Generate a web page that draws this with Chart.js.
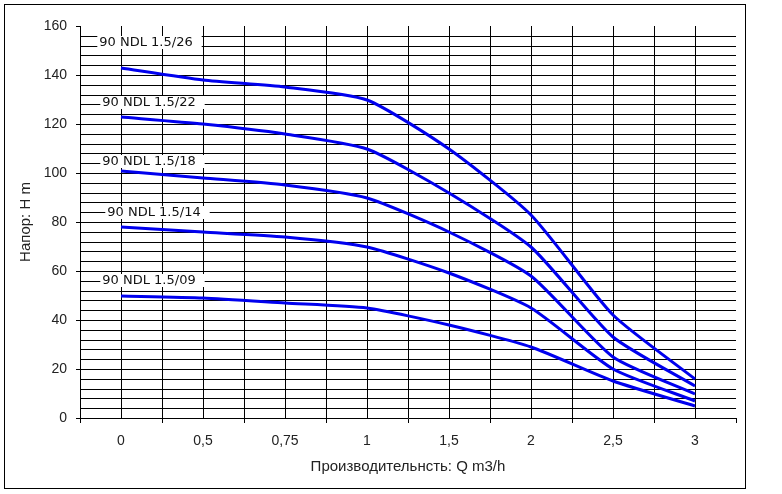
<!DOCTYPE html>
<html>
<head>
<meta charset="utf-8">
<script src="https://cdn.jsdelivr.net/npm/chart.js@4.4.1/dist/chart.umd.min.js"></script>
<style>
  html, body { margin: 0; padding: 0; background: #fff; }
  canvas { display: block; }
</style>
</head>
<body>
<canvas id="pumpChart" width="782" height="494"></canvas>
<script>
// Q, m3/h (категории по оси X)
const flowLabels = ['0', '0,5', '0,75', '1', '1,5', '2', '2,5', '3'];
const pumpNames = ['90 NDL 1.5/26', '90 NDL 1.5/22', '90 NDL 1.5/18', '90 NDL 1.5/14', '90 NDL 1.5/09'];
// напор H, m
const head26 = [143, 138, 135, 130, 110, 83, 42, 16];
const head22 = [123, 120, 116, 110, 92, 70, 33, 13];
const head18 = [101, 98, 95, 90, 76, 58, 25, 10];
const head14 = [78, 76, 74, 70, 59, 45, 20, 7];
const head09 = [50, 49, 47, 45, 38, 29, 15, 5];
const headSeries = [head26, head22, head18, head14, head09];

// where the name tags sit: [x offset in categories, head]
const tagSpots = [[0.30, 153.5], [0.345, 129], [0.345, 105], [0.405, 84.2], [0.345, 56.5]];

const frame = {
    id: 'frame',
    beforeDraw(chart) {
        const ctx = chart.ctx;
        ctx.save();
        ctx.fillStyle = '#fff';
        ctx.fillRect(0, 0, chart.width, chart.height);
        ctx.restore();
    },
    afterDraw(chart) {
        const ctx = chart.ctx;
        ctx.save();
        ctx.strokeStyle = '#000';
        ctx.lineWidth = 1;
        ctx.strokeRect(4.5, 4.5, 741, 484);
        ctx.restore();
    }
};

const nameTags = {
    id: 'nameTags',
    beforeDatasetsDraw(chart) {
        const { ctx, scales: { x, y } } = chart;
        ctx.save();
        ctx.font = '13px "DejaVu Sans"';
        ctx.textBaseline = 'middle';
        ctx.textAlign = 'left';
        chart.data.datasets.forEach((ds, i) => {
            const [dx, h] = tagSpots[i];
            const w = ctx.measureText(ds.label).width;
            const left = x.getPixelForValue(dx) - w / 2;
            const cy = Math.round(y.getPixelForValue(h));
            ctx.fillStyle = '#fff';
            ctx.fillRect(left - 2, cy - 6, w + 11, 13);
            ctx.fillStyle = '#111';
            ctx.fillText(ds.label, left, cy + 1);
        });
        ctx.restore();
    }
};

const datasets = headSeries.map((heads, i) => ({
    label: pumpNames[i],
    data: heads.map((h, k) => ({ x: k, y: h })),
    borderColor: '#0000ee',
    borderWidth: 3,
    pointRadius: 0,
    tension: 0.2,
    fill: false
}));

const textColor = '#222';

new Chart(document.getElementById('pumpChart'), {
    type: 'line',
    data: { datasets },
    plugins: [frame, nameTags],
    options: {
        responsive: false,
        animation: false,
        devicePixelRatio: 1,
        layout: { padding: { top: 26, right: 46, bottom: 0, left: 0 } },
        plugins: {
            legend: { display: false },
            tooltip: { enabled: false }
        },
        scales: {
            x: {
                type: 'linear',
                min: -0.5,
                max: flowLabels.length - 0.5,
                alignToPixels: true,
                afterFit: s => { s.height = 76; },
                border: { display: true, color: '#000', width: 1 },
                grid: {
                    color: c => (c.tick && c.tick.value > -0.5 && c.tick.value < flowLabels.length - 0.5) ? '#000' : 'rgba(0,0,0,0)',
                    tickColor: c => (c.tick && !Number.isInteger(c.tick.value)) ? '#000' : 'rgba(0,0,0,0)',
                    tickLength: 5,
                    lineWidth: 1
                },
                ticks: {
                    stepSize: 0.5,
                    autoSkip: false,
                    maxRotation: 0,
                    padding: 10,
                    color: textColor,
                    font: { family: 'Arial, "Liberation Sans"', size: 14 },
                    callback: v => Number.isInteger(v) ? flowLabels[v] : ''
                },
                title: {
                    display: true,
                    text: 'Производительнсть: Q m3/h',
                    color: textColor,
                    font: { family: 'Arial, "Liberation Sans"', size: 15 },
                    padding: { top: 4, bottom: 18 }
                }
            },
            y: {
                min: 0,
                max: 160,
                alignToPixels: true,
                afterFit: s => { s.width = 80; },
                border: { display: true, color: '#000', width: 1 },
                grid: {
                    color: c => (c.tick && c.tick.value > 0 && c.tick.value < 160) ? '#000' : 'rgba(0,0,0,0)',
                    tickColor: c => (c.tick && c.tick.value % 20 === 0) ? '#000' : 'rgba(0,0,0,0)',
                    tickLength: 4,
                    lineWidth: 1
                },
                ticks: {
                    stepSize: 4,
                    autoSkip: false,
                    padding: 9,
                    color: textColor,
                    font: { family: 'Arial, "Liberation Sans"', size: 14 },
                    callback: v => v % 20 === 0 ? v : ''
                },
                title: {
                    display: true,
                    text: 'Напор: H m',
                    color: textColor,
                    font: { family: 'Arial, "Liberation Sans"', size: 15 },
                    padding: { top: 17, bottom: 4 }
                }
            }
        }
    }
});
</script>
</body>
</html>
